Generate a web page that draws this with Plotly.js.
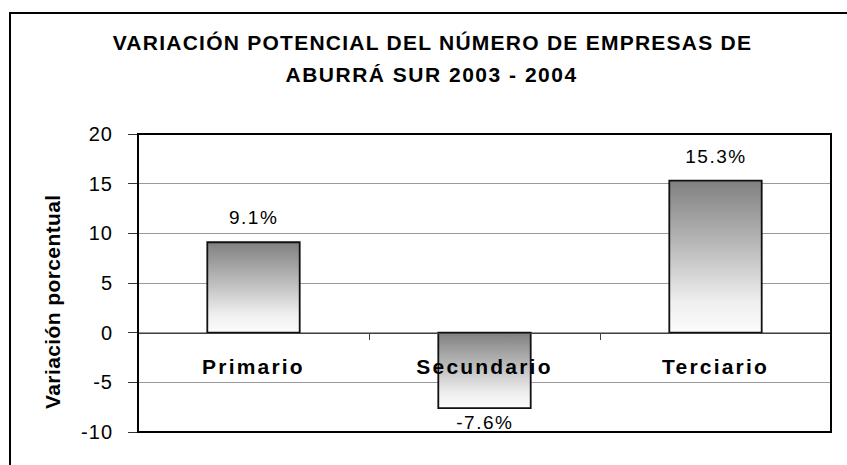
<!DOCTYPE html>
<html>
<head>
<meta charset="utf-8">
<script src="https://cdn.plot.ly/plotly-3.0.1.min.js"></script>
<style>
html,body{margin:0;padding:0;background:#fff;overflow:hidden}
#wrap{position:relative;width:847px;height:465px;overflow:hidden}
#chart{position:absolute;left:0;top:0;width:847px;height:465px}
#frame{position:absolute;left:9px;top:12px;width:900px;height:520px;border-left:2px solid #000;border-top:2px solid #000;pointer-events:none}
#chart .gtitle{letter-spacing:1.25px}
#chart .ytick text{letter-spacing:1px}
#chart .xtick text{letter-spacing:2.2px}
#chart .annotation-text{letter-spacing:1.5px}
#chart g.annotation[data-index="1"] .annotation-text{letter-spacing:0.4px}
</style>
</head>
<body>
<div id="wrap"><div id="chart"></div><div id="frame"></div></div>
<script>
// ---- data ----
var titleLine1 = "VARIACIÓN POTENCIAL DEL NÚMERO DE EMPRESAS DE";
var titleLine2 = "ABURRÁ SUR 2003 - 2004";
var yTitle = "Variación porcentual";
var categories = ["Primario", "Secundario", "Terciario"];
var values = [9.1, -7.6, 15.3];
var yTickVals = [-10, -5, 0, 5, 10, 15, 20];
var yTickText = ["-10", "-5", "0", "5", "10", "15", "20"];
var yRange = [-10, 20];

var FONT = "'Liberation Sans', Arial, Helvetica, sans-serif";

var annotations = [
  {text: titleLine2, xref: 'paper', yref: 'paper', x: 0.4228, y: 1.199,
   xanchor: 'center', yanchor: 'middle', showarrow: false,
   font: {family: FONT, size: 21, color: '#000', weight: 'bold'}},
  {text: yTitle, xref: 'paper', yref: 'paper', x: -0.1227, y: 0.4396,
   xanchor: 'center', yanchor: 'middle', showarrow: false, textangle: -90,
   font: {family: FONT, size: 21, color: '#000', weight: 'bold'}}
];
categories.forEach(function (c, i) {
  var v = values[i];
  annotations.push({
    text: v.toFixed(1) + '%', xref: 'x', yref: 'y', x: c, y: v,
    xanchor: 'center', yanchor: v >= 0 ? 'bottom' : 'top',
    yshift: v >= 0 ? 12 : -2, showarrow: false,
    font: {family: FONT, size: 19, color: '#000'}
  });
});

var trace = {
  type: 'bar', x: categories, y: values,
  marker: {color: '#b0b0b0', line: {color: '#111', width: 1.8}},
  hoverinfo: 'none'
};

var layout = {
  width: 847, height: 465,
  margin: {l: 138, r: 16, t: 134, b: 33, pad: 0},
  paper_bgcolor: '#fff', plot_bgcolor: '#fff',
  showlegend: false,
  bargap: 0.6,
  font: {family: FONT, color: '#000'},
  title: {text: titleLine1, xref: 'container', yref: 'container',
          x: 0.5106, y: 1 - 42.6 / 465, xanchor: 'center', yanchor: 'middle',
          font: {family: FONT, size: 21, color: '#000', weight: 'bold'}},
  xaxis: {type: 'category', anchor: 'free',
          position: (0 - yRange[0]) / (yRange[1] - yRange[0]),
          showline: true, linecolor: '#404040', linewidth: 1.5,
          tickson: 'boundaries', ticks: 'outside', ticklen: 6, tickcolor: '#404040', tickwidth: 1,
          ticklabelstandoff: 15,
          tickfont: {family: FONT, size: 21, color: '#000', weight: 'bold'},
          showgrid: false, zeroline: false, fixedrange: true},
  yaxis: {range: yRange, tickmode: 'array', tickvals: yTickVals, ticktext: yTickText,
          showgrid: true, gridcolor: '#9a9a9a', gridwidth: 1,
          zeroline: false, showline: false,
          ticks: 'outside', ticklen: 9, tickcolor: '#333', tickwidth: 1,
          ticklabelstandoff: 11,
          tickfont: {family: FONT, size: 20, color: '#000'}, fixedrange: true},
  shapes: [{type: 'rect', xref: 'paper', yref: 'paper', x0: 0, x1: 1, y0: 0, y1: 1,
            line: {color: '#000', width: 2}, layer: 'above'}],
  annotations: annotations
};

Plotly.newPlot('chart', [trace], layout, {staticPlot: true, displayModeBar: false}).then(function (gd) {
  var svg = gd.querySelector('svg.main-svg');
  var defs = svg.querySelector('defs');
  var NS = 'http://www.w3.org/2000/svg';
  var g = document.createElementNS(NS, 'linearGradient');
  g.setAttribute('id', 'barGrad');
  g.setAttribute('x1', '0'); g.setAttribute('y1', '0');
  g.setAttribute('x2', '0'); g.setAttribute('y2', '1');
  [['0', '#808080'], ['0.45', '#bdbdbd'], ['0.8', '#efefef'], ['1', '#fcfcfc']].forEach(function (s) {
    var st = document.createElementNS(NS, 'stop');
    st.setAttribute('offset', s[0]);
    st.setAttribute('stop-color', s[1]);
    g.appendChild(st);
  });
  defs.appendChild(g);
  gd.querySelectorAll('.bars .point path').forEach(function (p) {
    p.style.fill = 'url(#barGrad)';
  });
});
</script>
</body>
</html>
